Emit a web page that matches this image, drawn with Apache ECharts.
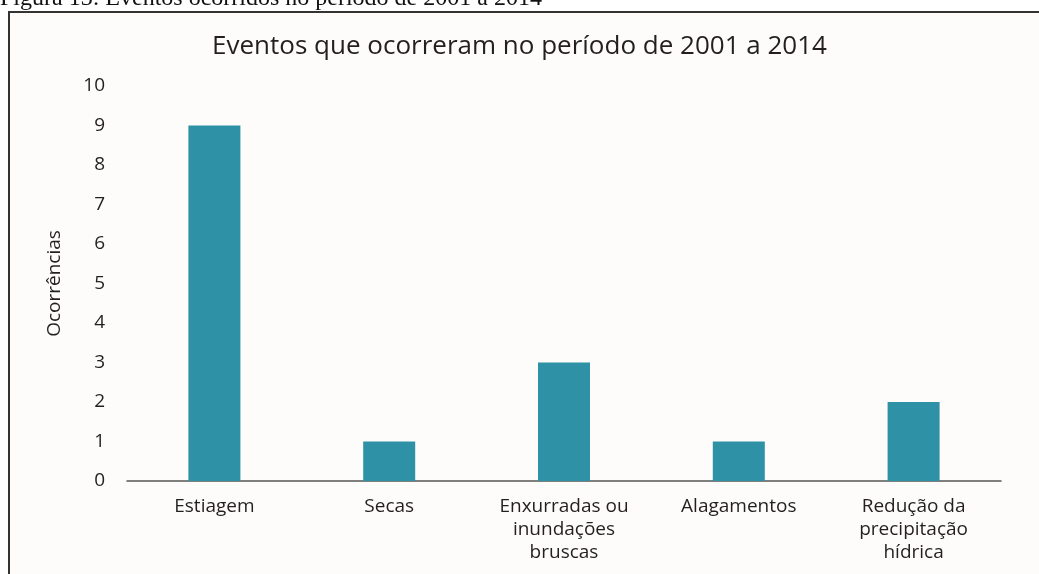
<!DOCTYPE html>
<html>
<head>
<meta charset="utf-8">
<title>Eventos que ocorreram no período de 2001 a 2014</title>
<script src="https://cdn.jsdelivr.net/npm/echarts@6/dist/echarts.min.js"></script>
<style>
  html, body { margin: 0; padding: 0; background: #ffffff; }
  #chart { width: 1039px; height: 574px; }
</style>
</head>
<body>
<div id="chart"></div>
<script>
  // categorias do eixo x
  var categorias = ['Estiagem', 'Secas', 'Enxurradas ou\ninundações\nbruscas', 'Alagamentos', 'Redução da\nprecipitação\nhídrica'];
  // número de ocorrências
  var ocorrencias = [9, 1, 3, 1, 2];
  var titulo = 'Eventos que ocorreram no período de 2001 a 2014';
  var legenda = 'Figura 13: Eventos ocorridos no período de 2001 a 2014';

  var myChart = echarts.init(document.getElementById('chart'));
  var fonte = '"Open Sans", "Noto Sans", sans-serif';

  var option = {
    backgroundColor: '#ffffff',
    animation: false,
    graphic: [
      {
        // moldura da figura
        type: 'rect',
        z: -10,
        shape: { x: 9, y: 12, width: 1040, height: 580 },
        style: { fill: '#fdfcfb', stroke: '#333333', lineWidth: 2 }
      },
      {
        type: 'text',
        x: 0,
        y: 11,
        style: {
          text: legenda,
          font: '24px "Liberation Serif", "Times New Roman", serif',
          fill: '#111111',
          verticalAlign: 'bottom'
        }
      }
    ],
    title: {
      text: titulo,
      left: 'center',
      top: 29,
      textStyle: {
        fontFamily: fonte,
        fontWeight: 'normal',
        fontSize: 26,
        color: '#231f20'
      }
    },
    grid: {
      left: 127,
      right: 38,
      top: 86,
      bottom: 93,
      containLabel: false
    },
    xAxis: {
      type: 'category',
      data: categorias,
      axisTick: { show: false },
      axisLine: { lineStyle: { color: '#555555', width: 1.5 } },
      axisLabel: {
        interval: 0,
        margin: 14,
        fontFamily: fonte,
        fontSize: 19,
        lineHeight: 23,
        color: '#231f20',
        align: 'center'
      }
    },
    yAxis: {
      type: 'value',
      min: 0,
      max: 10,
      interval: 1,
      name: 'Ocorrências',
      nameLocation: 'middle',
      nameGap: 63,
      nameRotate: 90,
      nameTextStyle: {
        fontFamily: fonte,
        fontSize: 19,
        color: '#231f20'
      },
      axisLine: { show: false },
      axisTick: { show: false },
      splitLine: { show: false },
      axisLabel: {
        margin: 22,
        fontFamily: fonte,
        fontSize: 19,
        color: '#231f20'
      }
    },
    series: [
      {
        name: 'Ocorrências',
        type: 'bar',
        data: ocorrencias,
        barWidth: 52,
        itemStyle: { color: '#2e91a5' }
      }
    ]
  };

  myChart.setOption(option);
</script>
</body>
</html>
